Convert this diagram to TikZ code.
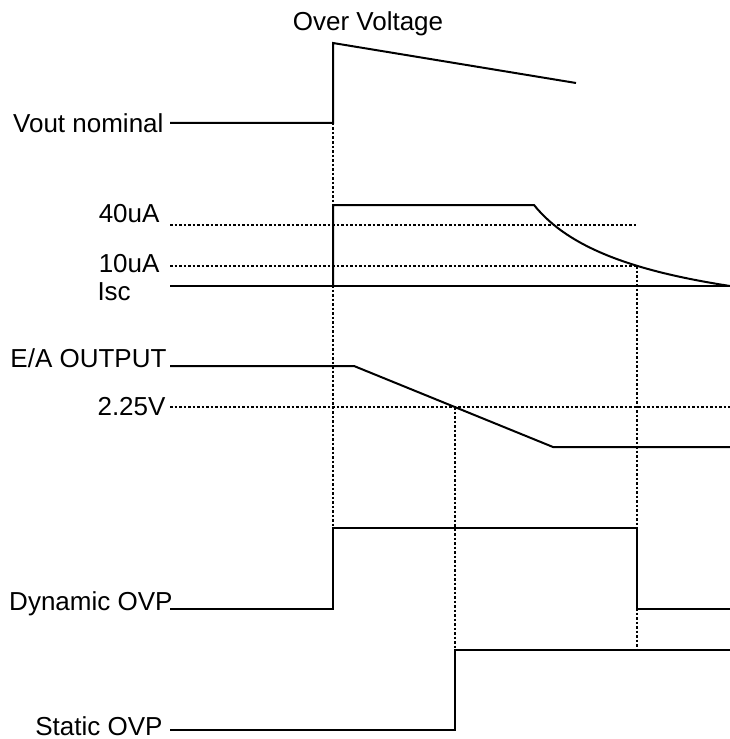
\documentclass[tikz,border=0pt]{standalone}
\usepackage{fontspec}
\setmainfont{Liberation Sans}
\usepackage{tikz}
\usetikzlibrary{positioning}

\begin{document}
\begin{tikzpicture}[x=0.4pt, y=-0.4pt,
    wave/.style={line width=0.8pt, line join=miter},
    guide/.style={line width=0.6pt, dash pattern=on 1pt off 0.8pt},
    lbl/.style={font=\fontsize{10.4}{12}\selectfont, inner sep=0pt}]
    \useasboundingbox (0,0) rectangle (730,739);

    % labels
    \node[lbl, anchor=base] (ov) at (368,31) {Over Voltage};
    \node[lbl, anchor=base east] (vout) at (164,132) {Vout nominal};
    \node[lbl, anchor=base east] (i40) at (160,222) {40uA};
    \node[lbl, anchor=base east] (i10) at (160,272) {10uA};
    \node[lbl, anchor=base west] (isc) at (97,300) {Isc};
    \node[lbl, anchor=base east] (ea) at (167,367) {E/A OUTPUT};
    \node[lbl, anchor=base east] (vref) at (166,415) {2.25V};
    \node[lbl, anchor=base east] (dyn) at (173,610) {Dynamic OVP};
    \node[lbl, anchor=base east] (stat) at (163,735) {Static OVP};

    % guide lines
    \draw[guide] (170,225) -- (638,225);
    \draw[guide] (170,266) -- (637,266);
    \draw[guide] (170,407) -- (730,407);
    \draw[guide] (333,123) -- (333,528);
    \draw[guide] (455,407) -- (455,650);
    \draw[guide] (637,266) -- (637,650);

    % waveforms
    \draw[wave] (170,123) -- (333,123) -- (333,43) -- (576,83);
    \draw[wave] (170,286) -- (730,286);
    \draw[wave] (333,286) -- (333,205) -- (534,205)
        .. controls (570,250) and (640,272) .. (730,286);
    \draw[wave] (170,366) -- (354,366) -- (553,447) -- (730,447);
    \draw[wave] (170,609) -- (333,609) -- (333,528) -- (637,528)
        -- (637,609) -- (730,609);
    \draw[wave] (170,730) -- (455,730) -- (455,650) -- (730,650);
\end{tikzpicture}
\end{document}
